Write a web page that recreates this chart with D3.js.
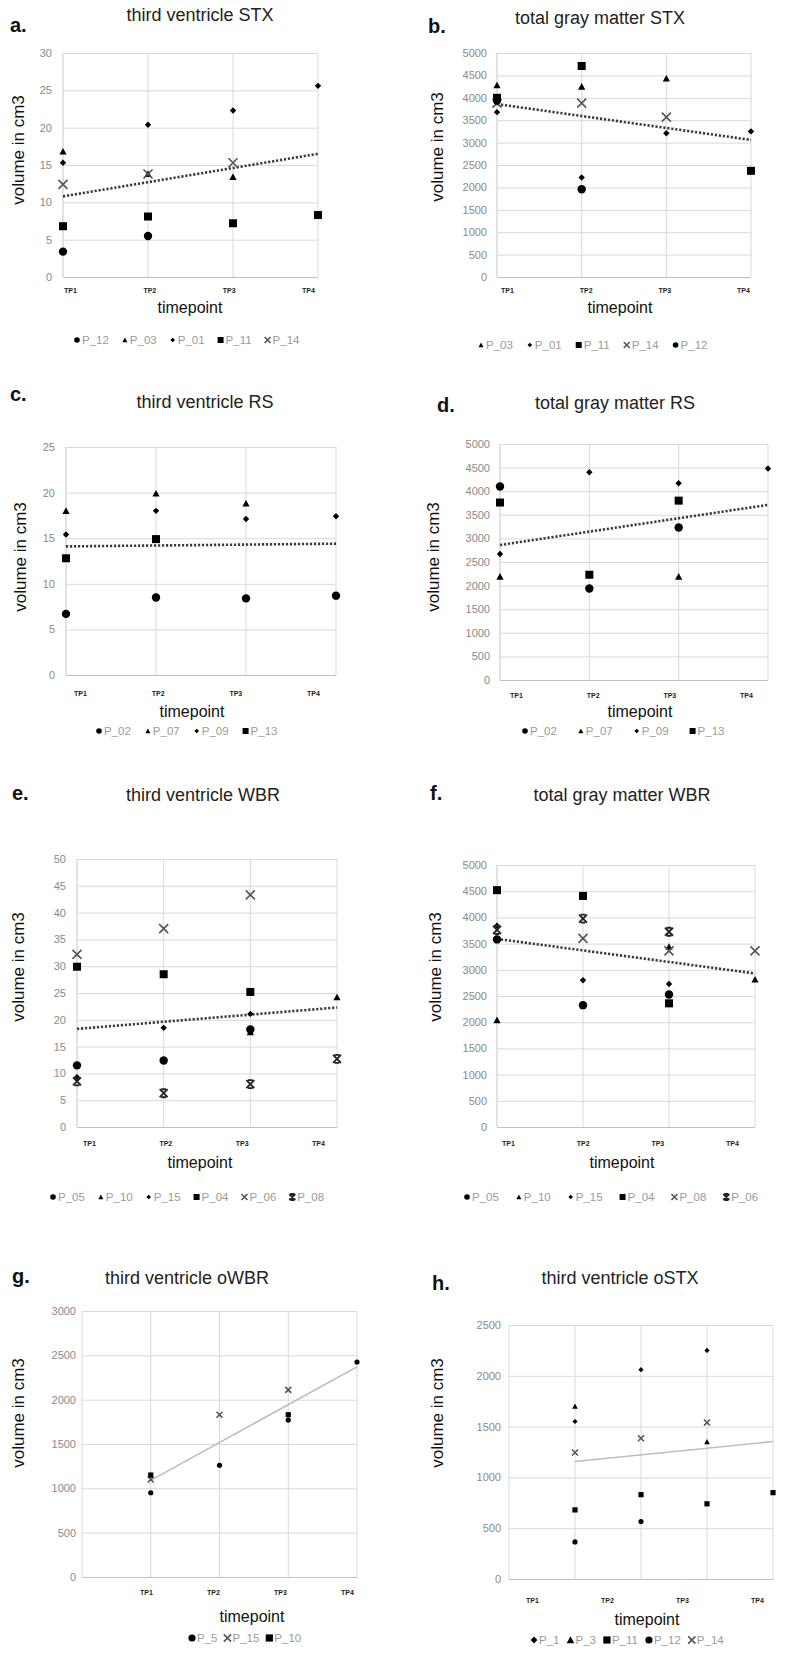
<!DOCTYPE html>
<html><head><meta charset="utf-8">
<script src="https://cdn.jsdelivr.net/npm/d3@7"></script>
<style>body{margin:0;background:#fff}</style>
</head><body><svg id="c" width="788" height="1659"></svg>
<script>
// ---------------- DATA ----------------
const timepoints = ["TP1", "TP2", "TP3", "TP4"];

// a. third ventricle STX
const aSeries = ["P_12", "P_03", "P_01", "P_11", "P_14"];
const aValues = [
  [3.4, 5.5, null, null],
  [16.8, 13.8, 13.4, null],
  [15.3, 20.4, 22.3, 25.6],
  [6.8, 8.1, 7.2, 8.3],
  [12.4, 13.8, 15.3, null]
];
const aTrend = [10.8, 16.5];
const aYTicks = [0, 5, 10, 15, 20, 25, 30];

// b. total gray matter STX
const bSeries = ["P_03", "P_01", "P_11", "P_14", "P_12"];
const bValues = [
  [4280, 4250, 4430, null],
  [3680, 2220, 3210, 3250],
  [4000, 4710, null, 2370],
  [3880, 3880, 3570, null],
  [3940, 1960, null, null]
];
const bTrend = [3860, 3060];
const bYTicks = [0, 500, 1000, 1500, 2000, 2500, 3000, 3500, 4000, 4500, 5000];

// c. third ventricle RS
const cSeries = ["P_02", "P_07", "P_09", "P_13"];
const cValues = [
  [6.7, 8.5, 8.4, 8.7],
  [18.0, 19.9, 18.8, null],
  [15.4, 18.0, 17.1, 17.4],
  [12.8, 14.9, null, null]
];
const cTrend = [14.1, 14.4];
const cYTicks = [0, 5, 10, 15, 20, 25];

// d. total gray matter RS
const dSeries = ["P_02", "P_07", "P_09", "P_13"];
const dValues = [
  [4100, 1940, 3230, null],
  [2190, null, 2190, null],
  [2670, 4400, 4170, 4480],
  [3760, 2230, 3800, null]
];
const dTrend = [2860, 3710];
const dYTicks = [0, 500, 1000, 1500, 2000, 2500, 3000, 3500, 4000, 4500, 5000];

// e. third ventricle WBR
const eSeries = ["P_05", "P_10", "P_15", "P_04", "P_06", "P_08"];
const eValues = [
  [11.5, 12.4, 18.2, null],
  [null, null, 17.7, 24.2],
  [9.3, 18.5, 21.1, null],
  [29.9, 28.5, 25.2, null],
  [32.2, 37.0, 43.3, null],
  [8.5, 6.3, 8.0, 12.7]
];
const eTrend = [18.3, 22.3];
const eYTicks = [0, 5, 10, 15, 20, 25, 30, 35, 40, 45, 50];

// f. total gray matter WBR
const fSeries = ["P_05", "P_10", "P_15", "P_04", "P_08", "P_06"];
const fValues = [
  [3580, 2325, 2530, null],
  [2040, null, 3440, 2815],
  [3840, 2800, 2730, null],
  [4520, 4410, 2360, null],
  [null, 3600, 3360, 3360],
  [3760, 3975, 3726, null]
];
const fTrend = [3590, 2930];
const fYTicks = [0, 500, 1000, 1500, 2000, 2500, 3000, 3500, 4000, 4500, 5000];

// g. third ventricle oWBR
const gSeries = ["P_5", "P_15", "P_10"];
const gValues = [
  [950, 1260, 1770, 2425],
  [1100, 1830, 2110, null],
  [1150, null, 1830, null]
];
const gTrend = [1090, 2370];
const gYTicks = [0, 500, 1000, 1500, 2000, 2500, 3000];

// h. third ventricle oSTX
const hSeries = ["P_1", "P_3", "P_11", "P_12", "P_14"];
const hValues = [
  [1550, 2060, 2250, null],
  [1700, null, 1350, null],
  [680, 830, 740, 850],
  [365, 565, null, null],
  [1245, 1385, 1540, null]
];
const hTrend = [1157, 1353];
const hYTicks = [0, 500, 1000, 1500, 2000, 2500];

// ---------------- LAYOUT ----------------
const FONT = "'Liberation Sans', Arial, sans-serif";
const svg = d3.select("#c");

const panels = [
  {letter: "a.", title: "third ventricle STX", series: aSeries, values: aValues, trend: aTrend, ticks: aYTicks,
   shapes: ["circle", "triangle", "diamond", "square", "cross"],
   L: 63, R: 318, T: 53, B: 277, letterX: 10, letterY: 32, titleX: 200, titleY: 21, yLabX: 18, yLabY: 150,
   tpY: 293, tpRange: [70, 308], xtY: 313, xtX: 190, legY: 344, legX: 77, legGap: 16, small: false, offset: false, tickPad: 11},
  {letter: "b.", title: "total gray matter STX", series: bSeries, values: bValues, trend: bTrend, ticks: bYTicks,
   shapes: ["triangle", "diamond", "square", "cross", "circle"],
   L: 497, R: 751, T: 53, B: 277, letterX: 428, letterY: 33, titleX: 600, titleY: 24, yLabX: 437, yLabY: 147,
   tpY: 293, tpRange: [507, 743], xtY: 313, xtX: 620, legY: 349, legX: 481, legGap: 17, small: false, offset: false, tickPad: 10},
  {letter: "c.", title: "third ventricle RS", series: cSeries, values: cValues, trend: cTrend, ticks: cYTicks,
   shapes: ["circle", "triangle", "diamond", "square"],
   L: 66, R: 336, T: 447, B: 675, letterX: 10, letterY: 401, titleX: 205, titleY: 408, yLabX: 20, yLabY: 557,
   tpY: 696, tpRange: [80, 313], xtY: 717, xtX: 192, legY: 735, legX: 99, legGap: 17, small: false, offset: false, tickPad: 11},
  {letter: "d.", title: "total gray matter RS", series: dSeries, values: dValues, trend: dTrend, ticks: dYTicks,
   shapes: ["circle", "triangle", "diamond", "square"],
   L: 500, R: 768, T: 444, B: 680, letterX: 437, letterY: 412, titleX: 615, titleY: 409, yLabX: 433, yLabY: 557,
   tpY: 698, tpRange: [516, 746], xtY: 717, xtX: 640, legY: 735, legX: 525, legGap: 24, small: false, offset: false, tickPad: 10},
  {letter: "e.", title: "third ventricle WBR", series: eSeries, values: eValues, trend: eTrend, ticks: eYTicks,
   shapes: ["circle", "triangle", "diamond", "square", "cross", "crossbar"],
   L: 77, R: 337, T: 859, B: 1127, letterX: 12, letterY: 800, titleX: 203, titleY: 801, yLabX: 18, yLabY: 967,
   tpY: 1146, tpRange: [89, 318], xtY: 1168, xtX: 200, legY: 1201, legX: 53, legGap: 16, small: false, offset: false, tickPad: 11},
  {letter: "f.", title: "total gray matter WBR", series: fSeries, values: fValues, trend: fTrend, ticks: fYTicks,
   shapes: ["circle", "triangle", "diamond", "square", "cross", "crossbar"],
   L: 497, R: 755, T: 865, B: 1127, letterX: 430, letterY: 800, titleX: 622, titleY: 801, yLabX: 435, yLabY: 967,
   tpY: 1146, tpRange: [508, 732], xtY: 1168, xtX: 622, legY: 1201, legX: 467, legGap: 20, small: false, offset: false, tickPad: 10},
  {letter: "g.", title: "third ventricle oWBR", series: gSeries, values: gValues, trend: gTrend, ticks: gYTicks,
   shapes: ["circle", "cross", "square"],
   L: 82, R: 357, T: 1311, B: 1577, letterX: 12, letterY: 1283, titleX: 187, titleY: 1284, yLabX: 18, yLabY: 1413,
   tpY: 1595, tpRange: [146, 347], xtY: 1622, xtX: 252, legY: 1642, legX: 192, legGap: 10, small: true, offset: true, tickPad: 6},
  {letter: "h.", title: "third ventricle oSTX", series: hSeries, values: hValues, trend: hTrend, ticks: hYTicks,
   shapes: ["diamond", "triangle", "square", "circle", "cross"],
   L: 509, R: 773, T: 1325, B: 1579, letterX: 432, letterY: 1290, titleX: 620, titleY: 1284, yLabX: 437, yLabY: 1413,
   tpY: 1603, tpRange: [532, 757], xtY: 1625, xtX: 647, legY: 1644, legX: 534, legGap: 11, small: true, offset: true, tickPad: 8}
];

function drawMarker(sel, type, s, color) {
  const c = color || "#000";
  if (type === "circle") sel.append("circle").attr("r", s).attr("fill", c);
  else if (type === "square") sel.append("rect").attr("x", -s).attr("y", -s).attr("width", 2 * s).attr("height", 2 * s).attr("fill", c);
  else if (type === "triangle") sel.append("path").attr("d", `M0,${-s}L${s},${s * 0.85}L${-s},${s * 0.85}Z`).attr("fill", c);
  else if (type === "diamond") sel.append("path").attr("d", `M0,${-s}L${s},0L0,${s}L${-s},0Z`).attr("fill", c);
  else if (type === "cross") sel.append("path").attr("d", `M${-s},${-s}L${s},${s}M${-s},${s}L${s},${-s}`)
      .attr("stroke", "#555").attr("stroke-width", 1.6).attr("fill", "none");
  else if (type === "crossbar") {
    const b = s * 0.6;
    sel.append("path")
      .attr("d", `M${-s},${-s}L${s},${s}M${-s},${s}L${s},${-s}M${-b},${-s}L${b},${-s}M${-b},${s}L${b},${s}`)
      .attr("stroke", "#222").attr("stroke-width", 1.8).attr("fill", "none");
  }
}

function sizeFor(type, small) {
  const big = {circle: 4.2, square: 4, triangle: 3.6, diamond: 3.2, cross: 4.5, crossbar: 4};
  const sm = {circle: 2.6, square: 2.6, triangle: 2.8, diamond: 2.6, cross: 3, crossbar: 3};
  return (small ? sm : big)[type];
}
function legSizeFor(type, small) {
  const big = {circle: 2.8, square: 3, triangle: 2.5, diamond: 2.3, cross: 3, crossbar: 3};
  const sm = {circle: 3.6, square: 3.6, triangle: 3.8, diamond: 3.4, cross: 3.6, crossbar: 3.6};
  return (small ? sm : big)[type];
}

panels.forEach(p => {
  const g = svg.append("g");
  const y = d3.scaleLinear().domain([0, d3.max(p.ticks)]).range([p.B, p.T]);
  const xDomain = p.offset ? ["_", ...timepoints] : timepoints;
  const x = d3.scalePoint().domain(xDomain).range([p.L, p.R]);

  // horizontal gridlines + y tick labels
  const ya = g.append("g").attr("transform", `translate(${p.L},0)`)
    .call(d3.axisLeft(y).tickValues(p.ticks).tickSize(-(p.R - p.L)).tickPadding(p.tickPad).tickFormat(d3.format("d")));
  ya.select(".domain").remove();
  ya.selectAll(".tick line").attr("stroke", d => d === 0 ? "#bfbfbf" : "#d9d9d9").attr("stroke-width", 1);
  ya.selectAll(".tick text").attr("fill", "#8a8a8a").style("font-family", FONT).style("font-size", "11px");

  // vertical gridlines
  const vx = [p.L, ...timepoints.map(t => x(t))];
  g.selectAll(".vg").data(vx).enter().append("line")
    .attr("x1", d => d).attr("x2", d => d).attr("y1", p.T).attr("y2", p.B)
    .attr("stroke", "#d9d9d9").attr("stroke-width", 1);

  // x tick labels
  const xl = d3.scalePoint().domain(timepoints).range(p.tpRange);
  const xa = g.append("g").attr("transform", `translate(0,${p.tpY - 5})`)
    .call(d3.axisBottom(xl).tickSize(0).tickPadding(0));
  xa.select(".domain").remove();
  xa.selectAll(".tick text").attr("fill", "#222").attr("dy", "0.71em")
    .style("font-family", FONT).style("font-size", "7px").style("font-weight", "bold");

  // trend line
  const tl = g.append("line")
    .attr("x1", x("TP1")).attr("x2", x("TP4"))
    .attr("y1", y(p.trend[0])).attr("y2", y(p.trend[1]));
  if (p.small) tl.attr("stroke", "#bdbdbd").attr("stroke-width", 1.6);
  else tl.attr("stroke", "#3a3a3a").attr("stroke-width", 2.6).attr("stroke-dasharray", "2.2,1.8");

  // points
  p.series.forEach((s, i) => {
    const type = p.shapes[i];
    p.values[i].forEach((v, j) => {
      if (v == null) return;
      const m = g.append("g").attr("transform", `translate(${x(timepoints[j])},${y(v)})`);
      drawMarker(m, type, sizeFor(type, p.small));
    });
  });

  // texts
  g.append("text").attr("x", p.letterX).attr("y", p.letterY).text(p.letter)
    .style("font-family", FONT).style("font-size", "20px").style("font-weight", "bold").attr("fill", "#111");
  g.append("text").attr("x", p.titleX).attr("y", p.titleY).attr("text-anchor", "middle").text(p.title)
    .style("font-family", FONT).style("font-size", "18px").attr("fill", "#222");
  g.append("text").attr("transform", `translate(${p.yLabX},${p.yLabY}) rotate(-90)`)
    .attr("text-anchor", "middle").attr("dy", "0.35em").text("volume in cm3")
    .style("font-family", FONT).style("font-size", "17px").attr("fill", "#111");
  g.append("text").attr("x", p.xtX).attr("y", p.xtY).attr("text-anchor", "middle").text("timepoint")
    .style("font-family", FONT).style("font-size", "16px").attr("fill", "#111");

  // legend
  let cx = p.legX;
  p.series.forEach((s, i) => {
    const type = p.shapes[i];
    const m = g.append("g").attr("transform", `translate(${cx},${p.legY - 4})`);
    drawMarker(m, type, legSizeFor(type, p.small));
    const t = g.append("text").attr("x", cx + 5).attr("y", p.legY).text(s)
      .style("font-family", FONT).style("font-size", "11.5px").attr("fill", "#9a9a9a");
    cx = cx + 5 + t.node().getComputedTextLength() + p.legGap;
  });
});
</script>
</body></html>
